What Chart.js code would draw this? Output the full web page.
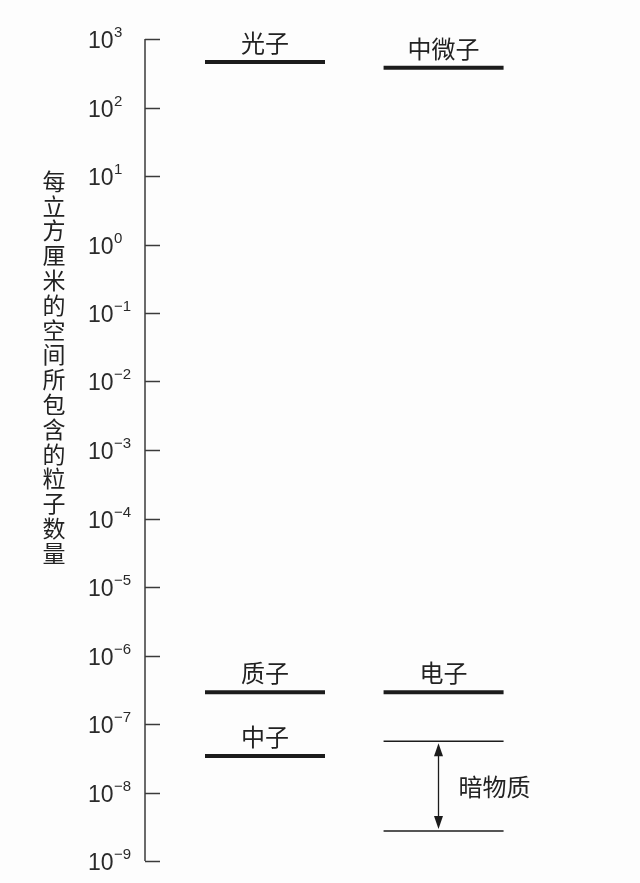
<!DOCTYPE html>
<html>
<head>
<meta charset="utf-8">
<script src="https://cdn.jsdelivr.net/npm/chart.js@4.4.1/dist/chart.umd.min.js"></script>
<style>
  html, body { margin: 0; padding: 0; background: #fdfdfd; }
  #wrap { width: 640px; height: 883px; position: relative; }
</style>
</head>
<body>
<div id="wrap"><canvas id="c"></canvas></div>
<script>
// ---------- data ----------
const particles = ['光子', '中微子', '质子', '电子', '中子'];
const density   = [460, 380, 2.9e-7, 2.9e-7, 3.4e-8];   // particles per cm^3
const column    = [1, 2, 1, 2, 1];
const darkLabel = '暗物质';
const darkRange = [2.75e-9, 5.6e-8];
const darkColumn = 2;
const tickExponents = [3, 2, 1, 0, -1, -2, -3, -4, -5, -6, -7, -8, -9];
const yTitle = '每立方厘米的空间所包含的粒子数量';

const HALF = 0.336;
const INK = '#1c1c1c';
const GREY = '#3a3a3a';
const CJK = '"Noto Sans CJK SC", "Noto Sans", sans-serif';
const LAT = '"Liberation Sans", Arial, sans-serif';

const datasets = particles.map((name, i) => ({
  label: name,
  data: [{ x: column[i] - HALF, y: density[i] }, { x: column[i] + HALF, y: density[i] }],
  borderColor: INK, borderWidth: 4, pointRadius: 0, borderCapStyle: 'butt'
}));
darkRange.forEach((v, k) => {
  datasets.push({
    label: darkLabel + (k ? '上限' : '下限'),
    data: [{ x: darkColumn - HALF, y: v }, { x: darkColumn + HALF, y: v }],
    borderColor: INK, borderWidth: 1.5, pointRadius: 0
  });
});

// axis, tick labels, names, arrow, vertical title
const decor = {
  id: 'decor',
  afterDatasetsDraw(chart) {
    const ctx = chart.ctx, xs = chart.scales.x, ys = chart.scales.y;
    const ax = chart.chartArea.left;
    ctx.save();
    // axis line
    ctx.strokeStyle = GREY; ctx.lineWidth = 1.5;
    ctx.beginPath();
    ctx.moveTo(ax, ys.getPixelForValue(1e3));
    ctx.lineTo(ax, ys.getPixelForValue(1e-9));
    ctx.stroke();
    // inward ticks + labels
    tickExponents.forEach(e => {
      const py = Math.round(ys.getPixelForValue(Math.pow(10, e))) + 0.5;
      ctx.beginPath(); ctx.moveTo(ax, py); ctx.lineTo(ax + 15, py); ctx.stroke();
      ctx.fillStyle = '#2a2a2a';
      ctx.textAlign = 'left'; ctx.textBaseline = 'middle';
      ctx.font = '23px ' + LAT;
      ctx.fillText('10', 88, py + 2);
      const w = ctx.measureText('10').width;
      ctx.font = '15px ' + LAT;
      ctx.fillText(e < 0 ? '\u2212' + (-e) : String(e), 88 + w + 0.5, py - 7);
    });
    // particle names
    ctx.fillStyle = '#222';
    ctx.font = '24px ' + CJK;
    ctx.textAlign = 'center'; ctx.textBaseline = 'middle';
    particles.forEach((name, i) => {
      ctx.fillText(name, xs.getPixelForValue(column[i]), ys.getPixelForValue(density[i]) - 19);
    });
    // dark matter arrow
    const axp = Math.round(xs.getPixelForValue(darkColumn) - 6) + 0.5;
    const top = ys.getPixelForValue(darkRange[1]) + 2, bot = ys.getPixelForValue(darkRange[0]) - 2;
    ctx.strokeStyle = INK; ctx.lineWidth = 1.3;
    ctx.beginPath(); ctx.moveTo(axp, top + 8); ctx.lineTo(axp, bot - 8); ctx.stroke();
    ctx.fillStyle = INK;
    ctx.beginPath(); ctx.moveTo(axp, top); ctx.lineTo(axp - 4.5, top + 13); ctx.lineTo(axp + 4.5, top + 13); ctx.closePath(); ctx.fill();
    ctx.beginPath(); ctx.moveTo(axp, bot); ctx.lineTo(axp - 4.5, bot - 13); ctx.lineTo(axp + 4.5, bot - 13); ctx.closePath(); ctx.fill();
    ctx.fillStyle = '#222';
    ctx.font = '24px ' + CJK; ctx.textAlign = 'left';
    ctx.fillText(darkLabel, axp + 20, (top + bot) / 2 + 1);
    // vertical stacked y title
    ctx.font = '23px ' + CJK; ctx.textAlign = 'center';
    const chars = Array.from(yTitle);
    const pitch = 24.8, y0 = 181;
    chars.forEach((ch, k) => ctx.fillText(ch, 54, y0 + k * pitch));
    ctx.restore();
  }
};

new Chart(document.getElementById('c'), {
  type: 'line',
  data: { datasets },
  options: {
    responsive: true, maintainAspectRatio: false, animation: false,
    layout: { padding: { left: 145, top: 39, bottom: 22, right: 0 } },
    plugins: { legend: { display: false }, tooltip: { enabled: false } },
    scales: {
      x: { type: 'linear', min: 0.328, max: 3.1, display: false },
      y: { type: 'logarithmic', min: 1e-9, max: 1e3, display: false }
    }
  },
  plugins: [decor]
});
</script>
</body>
</html>
